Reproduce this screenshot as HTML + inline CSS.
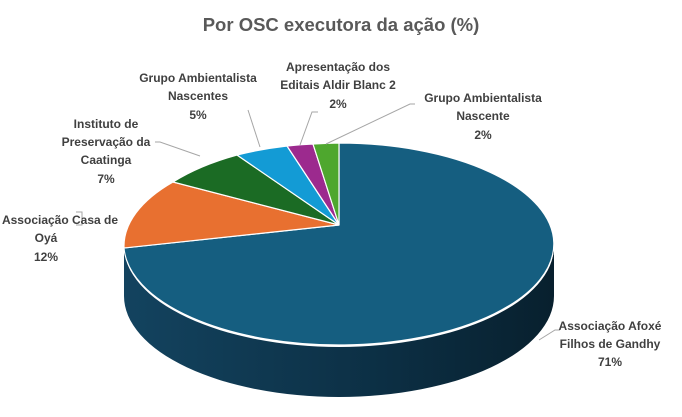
<!DOCTYPE html>
<html><head><meta charset="utf-8"><style>
body{margin:0;background:#fff;}
svg{display:block;font-family:"Liberation Sans",sans-serif;}
.l{font-size:12px;font-weight:bold;fill:#404040;}
</style></head><body>
<svg width="682" height="417" viewBox="0 0 682 417">
<defs><linearGradient id="g" x1="0" x2="1" y1="0" y2="0">
<stop offset="0" stop-color="#13435f"/><stop offset="0.6" stop-color="#0c2f44"/><stop offset="1" stop-color="#08202e"/></linearGradient></defs>
<text x="341" y="31" text-anchor="middle" font-size="18.5" font-weight="bold" fill="#595959">Por OSC executora da ação (%)</text>
<path d="M124,246 A215 101 0 0 0 554,246 L554,296 A215 101 0 0 1 124,296 Z" fill="url(#g)"/>
<g stroke="#fff" stroke-width="1.2">
<path d="M339,225 L124,248 A215 101 0 1 0 339,143 Z" fill="#155e80"/>
<path d="M339,225 L173,182 A215 101 0 0 0 124,248 Z" fill="#e87030"/>
<path d="M339,225 L237,155 A215 101 0 0 0 173,182 Z" fill="#1b6b24"/>
<path d="M339,225 L287,146 A215 101 0 0 0 237,155 Z" fill="#139bd5"/>
<path d="M339,225 L313,144 A215 101 0 0 0 287,146 Z" fill="#9c2a8e"/>
<path d="M339,225 L339,143 A215 101 0 0 0 313,144 Z" fill="#4ea72e"/>
</g>
<g stroke="#a6a6a6" fill="none" stroke-width="1">
<polyline points="539,340 555,330 560,330"/>
<polyline points="76,212 82,212 82,225 76,225"/>
<polyline points="200,156 160,142 155,142"/>
<polyline points="260,147 248,110"/>
<polyline points="300,145 312,112 318,112"/>
<polyline points="326,144 410,104 415,104"/>
</g>
<text class="l" text-anchor="middle"><tspan x="610" y="330">Associação Afoxé</tspan><tspan x="610" y="348">Filhos de Gandhy</tspan><tspan x="610" y="366">71%</tspan></text>
<text class="l" text-anchor="middle"><tspan x="60" y="224">Associação Casa de</tspan><tspan x="46" y="242">Oyá</tspan><tspan x="46" y="261">12%</tspan></text>
<text class="l" text-anchor="middle"><tspan x="106" y="128">Instituto de</tspan><tspan x="106" y="146">Preservação da</tspan><tspan x="106" y="164">Caatinga</tspan><tspan x="106" y="183">7%</tspan></text>
<text class="l" text-anchor="middle"><tspan x="198" y="82">Grupo Ambientalista</tspan><tspan x="198" y="100">Nascentes</tspan><tspan x="198" y="119">5%</tspan></text>
<text class="l" text-anchor="middle"><tspan x="338" y="71">Apresentação dos</tspan><tspan x="338" y="89">Editais Aldir Blanc 2</tspan><tspan x="338" y="108">2%</tspan></text>
<text class="l" text-anchor="middle"><tspan x="483" y="102">Grupo Ambientalista</tspan><tspan x="483" y="120">Nascente</tspan><tspan x="483" y="139">2%</tspan></text>
</svg>
</body></html>
